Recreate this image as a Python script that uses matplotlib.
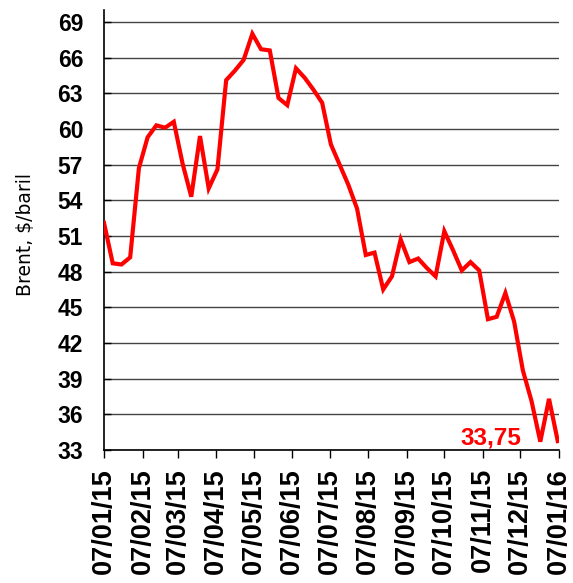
import matplotlib
matplotlib.use("Agg")
import matplotlib.pyplot as plt
import matplotlib.dates as mdates
import pandas as pd

# weekly Brent price, $/baril, starting 07/01/15
start_date = "2015-01-07"
brent = [52.1, 48.7, 48.6, 49.2, 56.7, 59.3, 60.3, 60.1, 60.6, 57.1,
         54.3, 59.4, 55.0, 56.6, 64.1, 64.9, 65.8, 68.0, 66.7, 66.6,
         62.6, 62.0, 65.1, 64.3, 63.3, 62.2, 58.7, 57.0, 55.3, 53.3,
         49.4, 49.6, 46.5, 47.6, 50.7, 48.8, 49.1, 48.3, 47.6, 51.4,
         49.8, 48.1, 48.8, 48.1, 44.0, 44.2, 46.2, 43.8, 39.7, 37.1,
         33.7, 37.3, 33.75]
y_ticks = list(range(33, 70, 3))
x_range = ("2015-01-07", "2016-01-07")

dates = pd.date_range(start_date, periods=len(brent), freq="7D")

plt.rcParams["font.family"] = ["Liberation Sans", "DejaVu Sans"]

fig = plt.figure(figsize=(5.73, 5.83), dpi=100)
ax = fig.add_axes([104 / 573, 1 - 450 / 583, 455 / 573, 440 / 583])

ax.plot(dates, brent, color="#ff0000", lw=3.0, solid_joinstyle="miter", zorder=3)

ax.set_ylim(33, 70)
ax.set_xlim(pd.Timestamp(x_range[0]), pd.Timestamp(x_range[1]))
ax.set_yticks(y_ticks)
ax.yaxis.grid(True, color="#444444", lw=1.0)
ax.set_axisbelow(True)

ax.xaxis.set_major_locator(mdates.MonthLocator(bymonthday=7))
ax.xaxis.set_major_formatter(mdates.DateFormatter("%d/%m/%y"))

for side in ("top", "right"):
    ax.spines[side].set_visible(False)
for side in ("left", "bottom"):
    ax.spines[side].set_linewidth(1.2)

ax.tick_params(axis="y", direction="in", length=5, width=1, pad=15,
               labelsize=16.5)
ax.tick_params(axis="x", direction="out", length=6, width=1, pad=7,
               labelsize=19.5, labelrotation=90)
for lbl in ax.get_yticklabels() + ax.get_xticklabels():
    lbl.set_fontweight("bold")

ax.set_ylabel("Brent, $/baril", fontsize=13.5, family="DejaVu Sans")
ax.yaxis.set_label_coords(-0.152, 0.49)

last = f"{brent[-1]:.2f}".replace(".", ",")
ax.annotate(last, xy=(dates[-1], brent[-1]), xytext=(-36, -3),
            textcoords="offset pixels", ha="right", va="baseline",
            color="#ff0000", fontsize=17.5, fontweight="bold")

fig.savefig("out.png", dpi=100)
